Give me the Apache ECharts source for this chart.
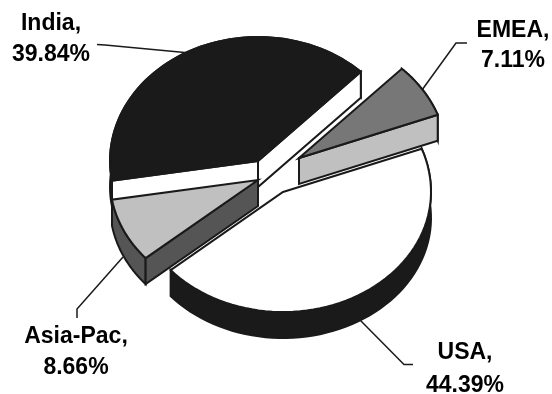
<!DOCTYPE html>
<html><head><meta charset="utf-8">
<style>html,body{margin:0;padding:0;background:#fff}#c{width:552px;height:394px}</style>
<script src="https://cdn.jsdelivr.net/npm/echarts@6/dist/echarts.min.js"></script>
</head><body><div id="c"></div>
<script>
// data, clockwise from the start angle
const categories = ['EMEA', 'USA', 'Asia-Pac', 'India'];
const shares = [7.11, 44.39, 8.66, 39.84];
const tickLabels = ['7.11%', '44.39%', '8.66%', '39.84%'];

// layout and style
const base = [272, 171], rx = 148, ryBack = 124, ryFront = 120, depth = 26, startDeg = 46;
const dark = '#1a1a1a';
const look = {
  'EMEA':     {off:[27,-13], top:'#777777', face:'#c0c0c0', rim:'#c0c0c0', order:40, label:[513,31,61], line:[[467,43],[456,43],[422,90]]},
  'USA':      {off:[11,21],  top:'#ffffff', face:dark,      rim:dark,      order:10, label:[465,353,386], line:[[413,364.5],[404,364.5],[360,320]]},
  'Asia-Pac': {off:[-14,9],  top:'#c0c0c0', face:'#555555', rim:'#555555', order:30, label:[76,337,368], line:[[77,318],[77,309],[123,257]]},
  'India':    {off:[-14,-10],top:dark,      face:'#ffffff', rim:dark,      order:20, label:[51,24,55], line:[[97,44.5],[105,45],[190,53]]}
};

const total = shares.reduce((a, b) => a + b, 0);
function renderItem(params, api) {
  const i = params.dataIndex, name = categories[i], s = look[name];
  let before = 0;
  for (let k = 0; k < i; k++) before += shares[k];
  const a0 = startDeg - before / total * 360, a1 = a0 - api.value(0) / total * 360;
  const c = [base[0] + s.off[0], base[1] + s.off[1]];
  const pt = (deg, dy) => {
    const r = deg * Math.PI / 180, sn = Math.sin(r);
    return [c[0] + rx * Math.cos(r), c[1] - sn * (sn > 0 ? ryBack : ryFront) + dy];
  };
  const arc = [], arcLow = [];
  const n = 60;
  for (let k = 0; k <= n; k++) {
    const d = a0 + (a1 - a0) * k / n;
    arc.push(pt(d, 0)); arcLow.push(pt(d, depth));
  }
  const z = s.order;
  const st = (fill) => ({fill, stroke: dark, lineWidth: 2, lineJoin: 'miter'});
  const poly = (points, fill, zz) => ({type: 'polygon', shape: {points}, style: st(fill), z2: z + zz, silent: true});
  const cLow = [c[0], c[1] + depth];
  const kids = [poly(arc.concat(arcLow.slice().reverse()), s.rim, 0)];
  // only the cut faces that look toward the viewer
  if (Math.cos(a0 * Math.PI / 180) < 0) kids.push(poly([c, arc[0], arcLow[0], cLow], s.face, 1));
  if (Math.cos(a1 * Math.PI / 180) > 0) kids.push(poly([c, arc[n], arcLow[n], cLow], s.face, 1));
  const font = 'bold 23px "Liberation Sans", Arial';
  kids.push(
    poly([c].concat(arc), s.top, 2),
    {type: 'polyline', shape: {points: s.line}, style: {fill: null, stroke: dark, lineWidth: 1.5}, z2: 5, silent: true},
    {type: 'text', style: {text: name + ',', x: s.label[0], y: s.label[1], align: 'center', verticalAlign: 'middle', font, fill: '#000'}, z2: 100, silent: true},
    {type: 'text', style: {text: tickLabels[i], x: s.label[0], y: s.label[2], align: 'center', verticalAlign: 'middle', font, fill: '#000'}, z2: 100, silent: true}
  );
  return {type: 'group', children: kids};
}
const chart = echarts.init(document.getElementById('c'), null, {renderer: 'canvas'});
chart.setOption({
  animation: false,
  backgroundColor: '#ffffff',
  series: [{type: 'custom', coordinateSystem: 'none', silent: true, renderItem,
    data: shares.map((v, i) => ({name: categories[i], value: [v]}))}]
});
</script></body></html>
